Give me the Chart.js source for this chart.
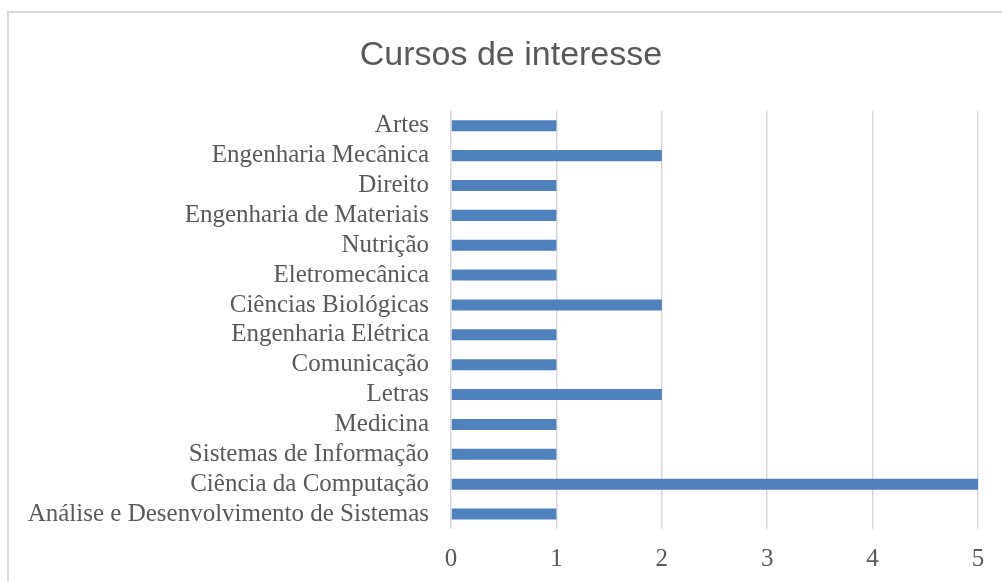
<!DOCTYPE html>
<html>
<head>
<meta charset="utf-8">
<script src="https://cdn.jsdelivr.net/npm/chart.js@4"></script>
<style>
  html, body { margin: 0; padding: 0; background: #fff; overflow: hidden; }
  #box {
    position: absolute; left: 7px; top: 11px; width: 1004px; height: 570px;
    border-left: 2px solid #D9D9D9; border-top: 2px solid #D9D9D9;
  }
  #box canvas { display: block; }
</style>
</head>
<body>
<div id="box"><canvas id="grafico" width="1004" height="570"></canvas></div>
<script>
  const titulo = 'Cursos de interesse';
  const cursos = [
    'Artes', 'Engenharia Mecânica', 'Direito', 'Engenharia de Materiais',
    'Nutrição', 'Eletromecânica', 'Ciências Biológicas', 'Engenharia Elétrica',
    'Comunicação', 'Letras', 'Medicina', 'Sistemas de Informação',
    'Ciência da Computação', 'Análise e Desenvolvimento de Sistemas'
  ];
  const totais = [1, 2, 1, 1, 1, 1, 2, 1, 1, 2, 1, 1, 5, 1];
  const eixoMin = 0;
  const eixoMax = 5;

  const cinza = '#595959';
  const serif = "'Liberation Serif', 'DejaVu Serif', serif";

  // centra o título na largura toda do quadro, não só na área com padding
  const tituloLargo = {
    id: 'tituloLargo',
    afterLayout(chart) {
      const t = chart.titleBlock;
      if (!t) return;
      t.left = 0;
      t.right = chart.width;
      t.width = chart.width;
    }
  };

  new Chart(document.getElementById('grafico'), {
    type: 'bar',
    data: {
      labels: cursos,
      datasets: [{
        data: totais,
        backgroundColor: '#4F81BD',
        barPercentage: 0.37,
        categoryPercentage: 1
      }]
    },
    options: {
      responsive: false,
      animation: false,
      indexAxis: 'y',
      layout: { padding: { left: 0, right: 35, top: 0, bottom: 0 } },
      plugins: {
        legend: { display: false },
        tooltip: { enabled: false },
        title: {
          display: true,
          text: titulo,
          color: cinza,
          font: { family: "'Liberation Sans', sans-serif", size: 34, weight: 'normal' },
          padding: { top: 22, bottom: 35 }
        }
      },
      scales: {
        x: {
          min: eixoMin,
          max: eixoMax,
          ticks: { stepSize: 1, color: cinza, font: { family: serif, size: 25 }, padding: 15 },
          grid: { color: '#D9D9D9', lineWidth: 1.5, drawTicks: false },
          border: { display: false },
          afterFit: s => { s.height = 54; }
        },
        y: {
          ticks: { color: cinza, font: { family: serif, size: 25 }, padding: 22, autoSkip: false },
          grid: { display: false, drawTicks: false },
          border: { display: false },
          afterFit: s => { s.width = 442; }
        }
      }
    },
    plugins: [tituloLargo]
  });
</script>
</body>
</html>
